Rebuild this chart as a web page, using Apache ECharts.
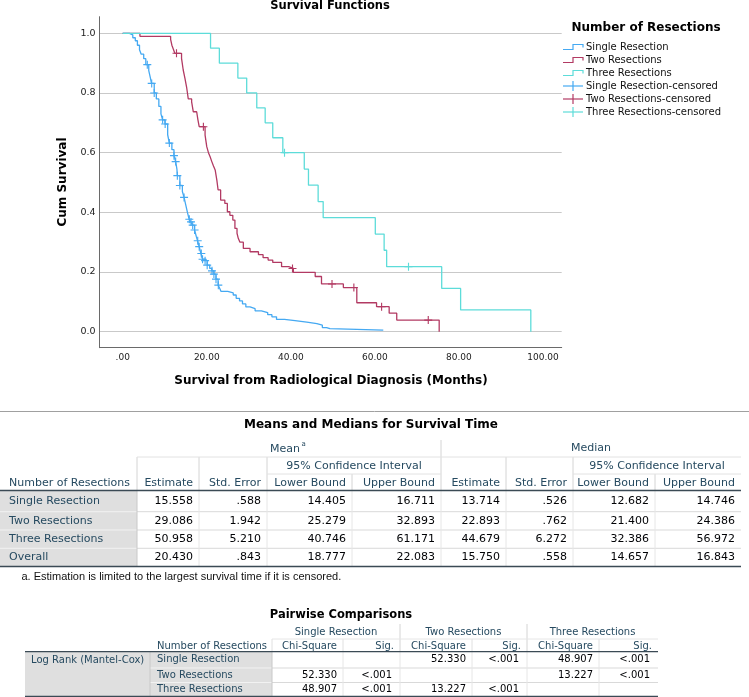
<!DOCTYPE html>
<html><head><meta charset="utf-8">
<script src="https://cdn.jsdelivr.net/npm/echarts@6/dist/echarts.min.js"></script>
<style>html,body{margin:0;padding:0;background:#fff}#c{width:749px;height:697px}</style>
</head><body><div id="c"></div>
<script>
// ---------- chart data ----------
const groupNames = ['Single Resection', 'Two Resections', 'Three Resections'];
const censoredNames = ['Single Resection-censored', 'Two Resections-censored', 'Three Resections-censored'];

const singleSteps = [[0,1],[1.6,0.995],[2.4,0.985],[3.0,0.975],[3.5,0.96],[4.0,0.945],[4.4,0.93],[5.0,0.915],[5.5,0.895],[6.2,0.875],[6.6,0.85],[6.85,0.832],[7.5,0.8],[8.0,0.78],[8.6,0.755],[9.1,0.73],[9.5,0.71],[10.05,0.696],[10.7,0.66],[11.1,0.632],[11.7,0.61],[12.2,0.59],[12.6,0.57],[12.9,0.545],[13.0,0.523],[13.6,0.49],[14.2,0.47],[14.6,0.45],[15.0,0.425],[15.4,0.40],[15.8,0.377],[16.2,0.368],[16.6,0.357],[17.1,0.341],[17.5,0.32],[17.8,0.305],[18.2,0.285],[18.6,0.262],[19.0,0.243],[19.6,0.238],[20.1,0.223],[20.7,0.212],[21.2,0.204],[21.7,0.193],[22.2,0.176],[22.7,0.156],[23.1,0.145],[23.4,0.135],[25.0,0.13],[26.3,0.123],[27.0,0.112],[27.8,0.103],[28.5,0.093],[29.3,0.083],[30.3,0.077],[31.5,0.07],[33.0,0.064],[34.5,0.057],[35.5,0.05],[36.6,0.041],[38.5,0.037],[41.0,0.032],[43.8,0.027],[46.2,0.022],[47.5,0.014],[48.5,0.01],[49.3,0.005],[62.0,0.005]];
const singleCensored = [[5.85,0.895],[6.9,0.832],[7.5,0.8],[9.5,0.71],[10.1,0.696],[11.1,0.632],[12.2,0.59],[12.6,0.57],[13.0,0.523],[13.6,0.49],[14.6,0.45],[15.85,0.377],[16.25,0.368],[16.65,0.357],[17.1,0.341],[17.85,0.305],[18.2,0.285],[18.7,0.262],[19.0,0.243],[19.6,0.238],[20.1,0.223],[21.25,0.204],[21.7,0.193],[22.2,0.176],[22.75,0.156]];

const twoSteps = [[0,1],[4.1,0.99],[11.4,0.98],[11.7,0.96],[12.1,0.945],[12.4,0.933],[14.0,0.916],[14.4,0.877],[14.8,0.85],[15.2,0.82],[15.6,0.78],[16.4,0.77],[16.8,0.737],[17.6,0.733],[17.9,0.71],[18.2,0.687],[19.6,0.659],[20.0,0.62],[20.4,0.60],[20.8,0.586],[21.2,0.57],[21.6,0.555],[22.0,0.542],[22.4,0.508],[22.7,0.475],[23.3,0.441],[24.3,0.43],[24.9,0.402],[25.5,0.39],[26.2,0.374],[26.7,0.346],[27.2,0.33],[27.5,0.313],[27.9,0.30],[28.7,0.279],[30.3,0.268],[32.3,0.258],[33.4,0.248],[34.6,0.24],[35.7,0.232],[37.8,0.218],[39.5,0.212],[40.6,0.199],[45.8,0.185],[47.3,0.16],[52.5,0.148],[55.7,0.097],[60.4,0.084],[63.4,0.062],[65.2,0.039],[75.3,0]];
const twoCensored = [[12.8,0.933],[19.2,0.687],[40.4,0.212],[49.8,0.16],[55.0,0.148],[61.6,0.084],[72.7,0.039]];

const threeSteps = [[0,1],[20.9,0.95],[23.0,0.9],[27.4,0.85],[29.5,0.8],[31.9,0.75],[33.9,0.7],[35.7,0.65],[38.1,0.6],[43.2,0.545],[44.2,0.491],[46.5,0.436],[47.7,0.382],[60.1,0.327],[62.2,0.273],[62.8,0.218],[75.9,0.145],[80.4,0.073],[97.1,0]];
const threeCensored = [[38.5,0.6],[68.0,0.218]];

// ---------- table data ----------
const meanRows = ['Single Resection', 'Two Resections', 'Three Resections', 'Overall'];
const meanEstimate = ['15.558', '29.086', '50.958', '20.430'];
const meanStdError = ['.588', '1.942', '5.210', '.843'];
const meanLower = ['14.405', '25.279', '40.746', '18.777'];
const meanUpper = ['16.711', '32.893', '61.171', '22.083'];
const medianEstimate = ['13.714', '22.893', '44.679', '15.750'];
const medianStdError = ['.526', '.762', '6.272', '.558'];
const medianLower = ['12.682', '21.400', '32.386', '14.657'];
const medianUpper = ['14.746', '24.386', '56.972', '16.843'];
const meanColHeaders = ['Estimate', 'Std. Error', 'Lower Bound', 'Upper Bound', 'Estimate', 'Std. Error', 'Lower Bound', 'Upper Bound'];

const pairRows = ['Single Resection', 'Two Resections', 'Three Resections'];
const pairChiSquare = [['', '52.330', '48.907'], ['52.330', '', '13.227'], ['48.907', '13.227', '']];
const pairSig = [['', '<.001', '<.001'], ['<.001', '', '<.001'], ['<.001', '<.001', '']];

// ---------- styling ----------
const colors = ['#45a9f2', '#b23a63', '#5ddcd9'];
const HDR = '#264a60';
const FONT = 'DejaVu Sans';
const plusPath = 'path://M4.3,0H5.7V4.3H10V5.7H5.7V10H4.3V5.7H0V4.3H4.3Z';

const chart = echarts.init(document.getElementById('c'), null, {renderer: 'canvas'});

const G = [];
function txt(x, y, text, opt) {
  opt = opt || {};
  G.push({type: 'text', x: x, y: y, rotation: opt.rot || 0, z: 10, style: {
    text: text, fill: opt.fill || '#000', align: opt.align || 'left', verticalAlign: 'middle',
    font: (opt.bold ? 'bold ' : '') + (opt.size || 11) + 'px "' + (opt.family || FONT) + '"'
  }});
}
function ln(x1, y1, x2, y2, stroke, w) {
  G.push({type: 'line', z: 5, shape: {x1: x1, y1: y1, x2: x2, y2: y2}, style: {stroke: stroke, lineWidth: w || 1}});
}
function rect(x, y, w, h, fill) {
  G.push({type: 'rect', z: 1, shape: {x: x, y: y, width: w, height: h}, style: {fill: fill}});
}

// chart titles
txt(330, 6, 'Survival Functions', {bold: true, size: 11.5, align: 'center'});
txt(331, 381, 'Survival from Radiological Diagnosis (Months)', {bold: true, size: 12, align: 'center'});
txt(63, 182, 'Cum Survival', {bold: true, size: 12, align: 'center', rot: Math.PI / 2});

// legend (drawn)
txt(571.5, 28, 'Number of Resections', {bold: true, size: 12});
const legYs = [47, 60, 73, 86, 99, 112];
const legLabels = groupNames.concat(censoredNames);
legLabels.forEach(function (name, i) {
  const y = legYs[i], c = colors[i % 3];
  if (i < 3) {
    G.push({type: 'polyline', z: 10, shape: {points: [[563, y + 2.5], [573, y + 2.5], [573, y - 2.5], [583, y - 2.5], [583, y + 0.5]]}, style: {stroke: c, lineWidth: 1.2, fill: null}});
  } else {
    ln(563, y, 583, y, c, 1.2);
    ln(573, y - 5, 573, y + 5, c, 1.2);
  }
  txt(586, y, name, {size: 10, fill: '#111'});
});

// separator line above tables
ln(0, 411.5, 749, 411.5, '#a0a0a0', 1);

// ---- Table 1: Means and Medians ----
txt(371, 425, 'Means and Medians for Survival Time', {bold: true, size: 12, align: 'center'});
const cx = [0, 137, 199, 267, 352, 441, 506, 573, 655, 741];
const rB = [490.5, 511.7, 530, 548.3, 566.5];
// header texts
txt(285, 449, 'Mean', {fill: HDR, align: 'center'});
txt(301.5, 444, 'a', {fill: HDR, size: 7});
txt(591, 448, 'Median', {fill: HDR, align: 'center'});
txt((cx[3] + cx[5]) / 2, 466, '95% Confidence Interval', {fill: HDR, align: 'center'});
txt((cx[7] + cx[9]) / 2, 466, '95% Confidence Interval', {fill: HDR, align: 'center'});
txt(9, 483, 'Number of Resections', {fill: HDR});
meanColHeaders.forEach(function (h, i) { txt(cx[i + 2] - 6, 483, h, {fill: HDR, align: 'right'}); });
// header grid lines
ln(cx[5], 440, cx[5], rB[0], '#d4d4d4');
[1, 2, 3, 6, 7].forEach(function (i) { ln(cx[i], 457, cx[i], rB[0], '#d4d4d4'); });
[4, 8].forEach(function (i) { ln(cx[i], 474, cx[i], rB[0], '#d4d4d4'); });
ln(cx[3], 474, cx[5], 474, '#e2e2e2'); ln(cx[7], 474, cx[9], 474, '#e2e2e2');
ln(cx[1], 457, cx[5], 457, '#e2e2e2'); ln(cx[5], 457, cx[9], 457, '#e2e2e2');
// body
rect(0, rB[0], cx[1], rB[4] - rB[0], '#dfdfdf');
const meanCols = [meanEstimate, meanStdError, meanLower, meanUpper, medianEstimate, medianStdError, medianLower, medianUpper];
meanRows.forEach(function (r, ri) {
  const yc = (rB[ri] + rB[ri + 1]) / 2;
  txt(9, yc, r, {fill: HDR});
  meanCols.forEach(function (col, ci) { txt(cx[ci + 2] - 6, yc, col[ri], {align: 'right', fill: '#010205'}); });
  if (ri > 0) { ln(0, rB[ri], cx[1], rB[ri], '#f2f2f2'); ln(cx[1], rB[ri], cx[9], rB[ri], '#d9d9d9'); }
});
for (let i = 2; i < 9; i++) ln(cx[i], rB[0], cx[i], rB[4], '#e6e6e6');
ln(cx[1], rB[0], cx[1], rB[4], '#c8c8c8');
ln(0, rB[0], cx[9], rB[0], '#3b4a55', 1.3);
ln(0, rB[4], cx[9], rB[4], '#3b4a55', 1.3);
txt(21.5, 577, 'a. Estimation is limited to the largest survival time if it is censored.', {size: 11, family: 'Liberation Sans', fill: '#111'});

// ---- Table 2: Pairwise Comparisons ----
txt(341, 615, 'Pairwise Comparisons', {bold: true, size: 11.5, align: 'center'});
const px = [25, 150, 272, 343, 400, 472, 527, 599, 658];
const pB = [651.7, 668, 682.5, 696.5];
groupNames.forEach(function (g, i) { txt((px[2 + 2 * i] + px[4 + 2 * i]) / 2, 632, g, {size: 10, fill: HDR, align: 'center'}); });
txt(157, 646, 'Number of Resections', {size: 10, fill: HDR});
for (let i = 0; i < 3; i++) {
  txt(px[3 + 2 * i] - 6, 646, 'Chi-Square', {size: 10, fill: HDR, align: 'right'});
  txt(px[4 + 2 * i] - 6, 646, 'Sig.', {size: 10, fill: HDR, align: 'right'});
}
[4, 6].forEach(function (i) { ln(px[i], 624, px[i], pB[0], '#d4d4d4'); });
[2, 3, 5, 7].forEach(function (i) { ln(px[i], 639, px[i], pB[0], '#e0e0e0'); });
ln(px[2], 639, px[8], 639, '#e6e6e6');
rect(px[0], pB[0], px[2] - px[0], pB[3] - pB[0], '#dfdfdf');
txt(31, 660.5, 'Log Rank (Mantel-Cox)', {size: 10, fill: HDR});
pairRows.forEach(function (r, ri) {
  const yc = (pB[ri] + pB[ri + 1]) / 2;
  txt(157, yc, r, {size: 10, fill: HDR});
  for (let j = 0; j < 3; j++) {
    if (pairChiSquare[ri][j]) txt(px[3 + 2 * j] - 6, yc, pairChiSquare[ri][j], {size: 10, align: 'right', fill: '#010205'});
    if (pairSig[ri][j]) txt(px[4 + 2 * j] - 8, yc, pairSig[ri][j], {size: 10, align: 'right', fill: '#010205'});
  }
  if (ri > 0) { ln(px[1], pB[ri], px[2], pB[ri], '#f2f2f2'); ln(px[2], pB[ri], px[8], pB[ri], '#d9d9d9'); }
});
for (let i = 3; i < 8; i++) ln(px[i], pB[0], px[i], pB[3], '#e6e6e6');
ln(px[1], pB[0], px[1], pB[3], '#c8c8c8');
ln(px[2], pB[0], px[2], pB[3], '#c8c8c8');
ln(px[0], pB[0], px[8], pB[0], '#3b4a55', 1.3);
ln(px[0], 696.5, px[8], 696.5, '#3b4a55', 1.3);

// ---------- chart option ----------
const lineSeries = [singleSteps, twoSteps, threeSteps].map(function (d, i) {
  return {name: groupNames[i], type: 'line', step: 'end', xAxisIndex: 0, yAxisIndex: 0, data: d,
    symbol: 'none', lineStyle: {color: colors[i], width: 1.3}, itemStyle: {color: colors[i]}, silent: true, animation: false, z: 3 + i};
});
const censorSeries = [singleCensored, twoCensored, threeCensored].map(function (d, i) {
  return {name: censoredNames[i], type: 'scatter', xAxisIndex: 0, yAxisIndex: 0, data: d,
    symbol: plusPath, symbolSize: 8, itemStyle: {color: colors[i], opacity: 1}, silent: true, animation: false, z: 6};
});

const option = {
  animation: false,
  backgroundColor: '#fff',
  grid: [
    {left: 99.5, top: 16.7, width: 462.2, height: 331},
    {left: 99.5, top: 33.3, width: 462.2, height: 298.4},
    {left: 122.7, top: 16.7, width: 420.3, height: 331}
  ],
  xAxis: [
    {gridIndex: 0, type: 'value', min: -5.52, max: 104.45, axisLine: {show: true, onZero: false, lineStyle: {color: '#6a6a6a', width: 1}}, axisTick: {show: false}, axisLabel: {show: false}, splitLine: {show: false}},
    {gridIndex: 1, type: 'value', min: -5.52, max: 104.45, show: false},
    {gridIndex: 2, type: 'value', min: 0, max: 100, interval: 20, axisLine: {show: false}, axisTick: {show: false}, splitLine: {show: false},
      axisLabel: {margin: 5, fontSize: 9, fontFamily: FONT, color: '#222', formatter: function (v) { return v === 0 ? '.00' : v.toFixed(2); }}}
  ],
  yAxis: [
    {gridIndex: 0, type: 'value', min: -0.0536, max: 1.0556, axisLine: {show: true, onZero: false, lineStyle: {color: '#6a6a6a', width: 1}}, axisTick: {show: false}, axisLabel: {show: false}, splitLine: {show: false}},
    {gridIndex: 1, type: 'value', min: 0, max: 1, interval: 0.2, axisLine: {show: false}, axisTick: {show: false},
      splitLine: {show: true, showMinLine: true, showMaxLine: true, lineStyle: {color: '#c9c9c9', width: 1}},
      axisLabel: {margin: 4, fontSize: 9.5, fontFamily: FONT, color: '#222', formatter: function (v) { return v.toFixed(1); }}},
    {gridIndex: 2, type: 'value', min: 0, max: 1, show: false}
  ],
  series: lineSeries.concat(censorSeries),
  graphic: {elements: G}
};
chart.setOption(option);
</script>
</body></html>
